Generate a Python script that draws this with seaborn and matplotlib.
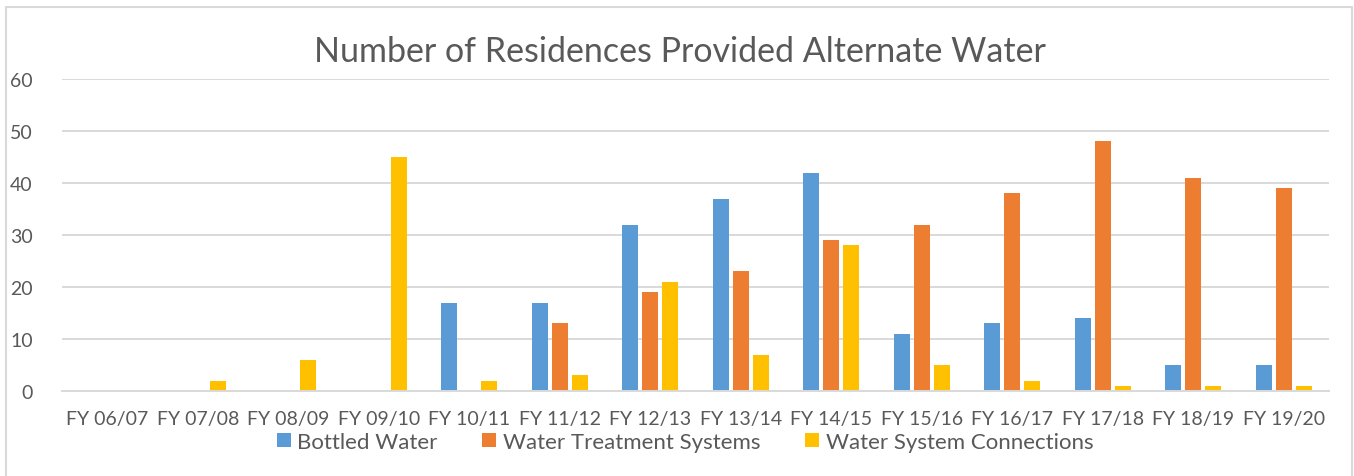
import pandas as pd
import matplotlib.pyplot as plt
import matplotlib.patches as mpatches
import seaborn as sns

years = ['FY 06/07', 'FY 07/08', 'FY 08/09', 'FY 09/10', 'FY 10/11', 'FY 11/12', 'FY 12/13',
         'FY 13/14', 'FY 14/15', 'FY 15/16', 'FY 16/17', 'FY 17/18', 'FY 18/19', 'FY 19/20']
bottled = [0, 0, 0, 0, 17, 17, 32, 37, 42, 11, 13, 14, 5, 5]
treatment = [0, 0, 0, 0, 0, 13, 19, 23, 29, 32, 38, 48, 41, 39]
connections = [0, 2, 6, 45, 2, 3, 21, 7, 28, 5, 2, 1, 1, 1]
series = ['Bottled Water', 'Water Treatment Systems', 'Water System Connections']
colors = ['#5b9bd5', '#ed7d31', '#ffc000']

sns.set_style("white")
plt.rcParams['font.family'] = ['Lato', 'DejaVu Sans']

df = pd.DataFrame({'year': years * 3,
                   'value': bottled + treatment + connections,
                   'series': [series[0]] * 14 + [series[1]] * 14 + [series[2]] * 14})

fig = plt.figure(figsize=(13.54, 4.77), dpi=100)
ax = fig.add_axes([62 / 1354, 1 - 392 / 477, 1267 / 1354, 312 / 477])

sns.barplot(data=df, x='year', y='value', hue='series', palette=colors, order=years,
            hue_order=series, width=0.66, gap=0.2, ax=ax, saturation=1, linewidth=0)

ax.set_ylim(0, 60)
ax.set_yticks(range(0, 61, 10))
ax.set_xlim(-0.5, len(years) - 0.5)
ax.yaxis.grid(True, color='#d9d9d9', linewidth=1.4)
ax.set_axisbelow(True)
for s in ['left', 'right', 'top']:
    ax.spines[s].set_visible(False)
ax.spines['bottom'].set_color('#d9d9d9')
ax.spines['bottom'].set_linewidth(1.4)
ax.tick_params(axis='both', length=0, colors='#595959')
ax.tick_params(axis='y', labelsize=14, pad=21)
ax.tick_params(axis='x', labelsize=14, pad=14)
ax.set_xlabel('')
ax.set_ylabel('')

fig.text(0.502, 1 - 52 / 477, 'Number of Residences Provided Alternate Water',
         ha='center', va='center', fontsize=24.5, color='#595959')

ax.legend(loc='center', bbox_to_anchor=(0.4917, -51 / 312), ncol=3, frameon=False,
          fontsize=16, labelcolor='#595959', handlelength=0.63, handleheight=0.63,
          handletextpad=0.3, columnspacing=2.0)

fig.patches.append(mpatches.Rectangle((6 / 1354, -0.1), 1346 / 1354, 1.1 - 8 / 477,
                                      transform=fig.transFigure, fill=False,
                                      edgecolor='#d9d9d9', linewidth=1.5))

plt.savefig('out.png', dpi=100)
